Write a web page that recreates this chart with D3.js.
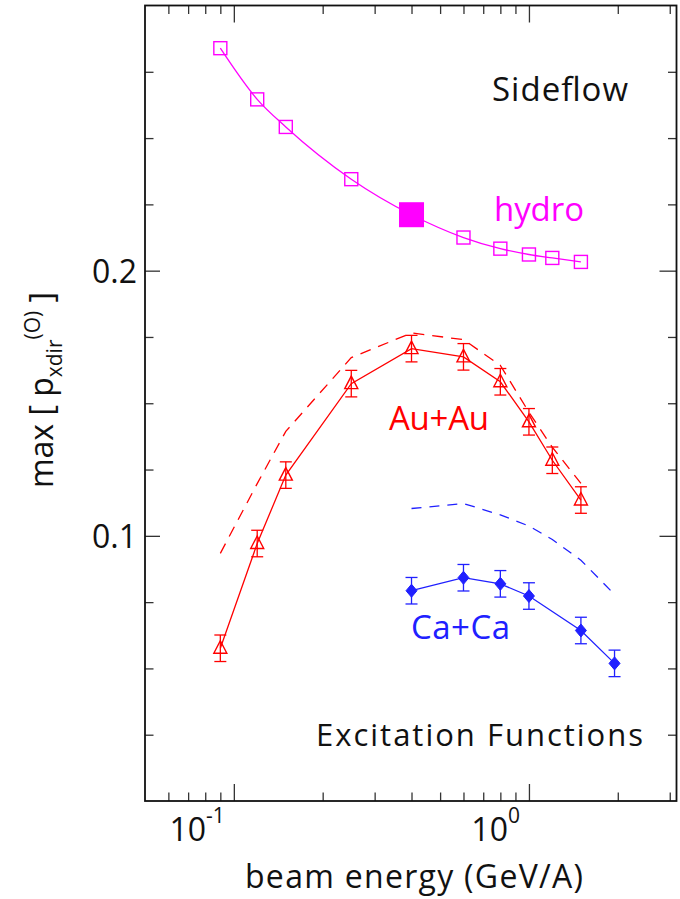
<!DOCTYPE html>
<html>
<head>
<meta charset="utf-8">
<script src="https://cdn.jsdelivr.net/npm/d3@7"></script>
<style>
  html, body { margin: 0; padding: 0; background: #fff; }
  svg { display: block; }
  text { font-family: "Open Sans", "DejaVu Sans", sans-serif; }
</style>
</head>
<body>
<script>
// ---------------- data ----------------
const energies = [0.09, 0.12, 0.15, 0.25, 0.4, 0.6, 0.8, 1.0, 1.2, 1.5];
const hydroValues = [0.2839, 0.2646, 0.2542, 0.2345, 0.2211, 0.2125, 0.2083, 0.2061, 0.2048, 0.2033];
const hydroHighlightEnergy = [0.4];
const hydroHighlightValue = [0.2211];

const auValues = [0.0576, 0.0971, 0.1229, 0.1574, 0.1706, 0.1675, 0.1581, 0.1430, 0.1285, 0.1135];
const auErrors = [0.005, 0.005, 0.005, 0.005, 0.005, 0.005, 0.005, 0.005, 0.005, 0.005];
const auModelValues = [0.0934, 0.1197, 0.1394, 0.1672, 0.1765, 0.1740, 0.1643, 0.1466, 0.1334, 0.1198];

const caEnergies = [0.4, 0.6, 0.8, 1.0, 1.5, 1.95];
const caValues = [0.0793, 0.0842, 0.0819, 0.0773, 0.0643, 0.0519];
const caErrors = [0.005, 0.005, 0.005, 0.005, 0.005, 0.005];
const caModelEnergies = [0.4, 0.6, 0.8, 1.0, 1.2, 1.5, 1.95];
const caModelValues = [0.1103, 0.1122, 0.1079, 0.1037, 0.0986, 0.0908, 0.0779];

const xMajorTicks = [0.1, 1];
const xMinorTicks = [0.06, 0.07, 0.08, 0.09, 0.2, 0.3, 0.4, 0.5, 0.6, 0.7, 0.8, 0.9, 2, 3];
const xTickBase = ["10", "10"];
const xTickExponents = ["-1", "0"];
const yMajorTicks = [0.1, 0.2];
const yMinorTicks = [0.025, 0.05, 0.075, 0.125, 0.15, 0.175, 0.225, 0.25, 0.275];
const yTickLabels = ["0.1", "0.2"];

const xTitle = "beam energy (GeV/A)";
const labels = {
  sideflow: "Sideflow",
  hydro: "hydro",
  au: "Au+Au",
  ca: "Ca+Ca",
  excitation: "Excitation Functions"
};

// ---------------- layout ----------------
const W = 680, H = 899;
const L = 145, R = 676.5, T = 5.5, B = 801;
const MAGENTA = "#ff00ff", RED = "#ff0000", BLUE = "#2020ff";

const svg = d3.select("body").append("svg").attr("width", W).attr("height", H);

const x = d3.scaleLog().domain([0.05, Math.sqrt(10)]).range([L, R]);
const y = d3.scaleLinear().domain([0, 0.3]).range([B, T]);

// ---------------- axes (ticks inward) ----------------
function styleAxis(g) {
  g.select(".domain").remove();
  g.selectAll(".tick line").attr("stroke", "#333").attr("stroke-width", 1.3);
  g.selectAll(".tick text").remove();
}
const MAJ = 17, MIN = 8.5;
svg.append("g").attr("transform", `translate(0,${B})`)
  .call(d3.axisTop(x).tickValues(xMajorTicks).tickSize(MAJ).tickFormat("")).call(styleAxis);
svg.append("g").attr("transform", `translate(0,${B})`)
  .call(d3.axisTop(x).tickValues(xMinorTicks).tickSize(MIN).tickFormat("")).call(styleAxis);
svg.append("g").attr("transform", `translate(0,${T})`)
  .call(d3.axisBottom(x).tickValues(xMajorTicks).tickSize(MAJ).tickFormat("")).call(styleAxis);
svg.append("g").attr("transform", `translate(0,${T})`)
  .call(d3.axisBottom(x).tickValues(xMinorTicks).tickSize(MIN).tickFormat("")).call(styleAxis);
svg.append("g").attr("transform", `translate(${L},0)`)
  .call(d3.axisRight(y).tickValues(yMajorTicks).tickSize(15).tickFormat("")).call(styleAxis);
svg.append("g").attr("transform", `translate(${L},0)`)
  .call(d3.axisRight(y).tickValues(yMinorTicks).tickSize(MIN).tickFormat("")).call(styleAxis);
svg.append("g").attr("transform", `translate(${R},0)`)
  .call(d3.axisLeft(y).tickValues(yMajorTicks).tickSize(MAJ).tickFormat("")).call(styleAxis);
svg.append("g").attr("transform", `translate(${R},0)`)
  .call(d3.axisLeft(y).tickValues(yMinorTicks).tickSize(MIN).tickFormat("")).call(styleAxis);

// frame
svg.append("rect").attr("x", L).attr("y", T).attr("width", R - L).attr("height", B - T)
  .attr("fill", "none").attr("stroke", "#111").attr("stroke-width", 1.8);

// tick labels
xMajorTicks.forEach((v, i) => {
  const t = svg.append("text").attr("x", x(v) - 9).attr("y", 841)
    .attr("text-anchor", "end").attr("font-size", 32).attr("fill", "#111");
  t.append("tspan").text(xTickBase[i]);
  t.append("tspan").attr("font-size", 21).attr("dy", -18).text(xTickExponents[i]);
});
yMajorTicks.forEach((v, i) => {
  svg.append("text").attr("x", 137).attr("y", y(v) + 12)
    .attr("text-anchor", "end").attr("font-size", 32).attr("fill", "#111").text(yTickLabels[i]);
});

// axis titles
svg.append("text").attr("x", 245).attr("y", 888)
  .attr("font-size", 32).attr("fill", "#111")
  .attr("textLength", 338).attr("lengthAdjust", "spacing").text(xTitle);

const yt = svg.append("text").attr("transform", "translate(53,390) rotate(-90)")
  .attr("text-anchor", "middle").attr("font-size", 32).attr("fill", "#111");
yt.append("tspan").text("max [ p");
yt.append("tspan").attr("font-size", 21).attr("dy", 9).text("xdir");
yt.append("tspan").attr("font-size", 21).attr("dy", -22).text("(O)");
yt.append("tspan").attr("font-size", 32).attr("dy", 13).text(" ]");

// ---------------- series ----------------
const plot = svg.append("g");

// hydro
const hydroPts = energies.map((e, i) => [e, hydroValues[i]]);
plot.append("path").datum(hydroPts)
  .attr("d", d3.line().x(d => x(d[0])).y(d => y(d[1])).curve(d3.curveMonotoneX))
  .attr("fill", "none").attr("stroke", MAGENTA).attr("stroke-width", 1.3);
const SQ = 13;
plot.selectAll(".hsq").data(hydroPts).enter().append("rect")
  .attr("x", d => x(d[0]) - SQ / 2).attr("y", d => y(d[1]) - SQ / 2)
  .attr("width", SQ).attr("height", SQ)
  .attr("fill", "none").attr("stroke", MAGENTA).attr("stroke-width", 1.4);
const BIG = 25;
plot.selectAll(".hbig").data(hydroHighlightEnergy.map((e, i) => [e, hydroHighlightValue[i]])).enter().append("rect")
  .attr("x", d => x(d[0]) - BIG / 2).attr("y", d => y(d[1]) - BIG / 2)
  .attr("width", BIG).attr("height", BIG).attr("fill", MAGENTA);

// Au+Au model (dashed)
plot.append("path").datum(energies.map((e, i) => [e, auModelValues[i]]))
  .attr("d", d3.line().x(d => x(d[0])).y(d => y(d[1])))
  .attr("fill", "none").attr("stroke", RED).attr("stroke-width", 1.3)
  .attr("stroke-dasharray", "11,8");

// Ca+Ca model (dashed)
plot.append("path").datum(caModelEnergies.map((e, i) => [e, caModelValues[i]]))
  .attr("d", d3.line().x(d => x(d[0])).y(d => y(d[1])))
  .attr("fill", "none").attr("stroke", BLUE).attr("stroke-width", 1.3)
  .attr("stroke-dasharray", "10,8");

function errorBars(pts, color) {
  const g = plot.append("g").attr("stroke", color).attr("stroke-width", 1.3).attr("fill", "none");
  const CAP = 6;
  pts.forEach(d => {
    const cx = x(d[0]), y0 = y(d[1] - d[2]), y1 = y(d[1] + d[2]);
    g.append("line").attr("x1", cx).attr("x2", cx).attr("y1", y0).attr("y2", y1);
    g.append("line").attr("x1", cx - CAP).attr("x2", cx + CAP).attr("y1", y0).attr("y2", y0);
    g.append("line").attr("x1", cx - CAP).attr("x2", cx + CAP).attr("y1", y1).attr("y2", y1);
  });
}

// Au+Au data
const auPts = energies.map((e, i) => [e, auValues[i], auErrors[i]]);
plot.append("path").datum(auPts)
  .attr("d", d3.line().x(d => x(d[0])).y(d => y(d[1])))
  .attr("fill", "none").attr("stroke", RED).attr("stroke-width", 1.3);
errorBars(auPts, RED);
plot.selectAll(".tri").data(auPts).enter().append("path")
  .attr("transform", d => `translate(${x(d[0])},${y(d[1])})`)
  .attr("d", "M0,-7.5 L6.5,5 L-6.5,5 Z")
  .attr("fill", "none").attr("stroke", RED).attr("stroke-width", 1.4);

// Ca+Ca data
const caPts = caEnergies.map((e, i) => [e, caValues[i], caErrors[i]]);
plot.append("path").datum(caPts)
  .attr("d", d3.line().x(d => x(d[0])).y(d => y(d[1])))
  .attr("fill", "none").attr("stroke", BLUE).attr("stroke-width", 1.3);
errorBars(caPts, BLUE);
plot.selectAll(".dia").data(caPts).enter().append("path")
  .attr("transform", d => `translate(${x(d[0])},${y(d[1])})`)
  .attr("d", "M0,-6.5 L5.5,0 L0,6.5 L-5.5,0 Z")
  .attr("fill", BLUE).attr("stroke", BLUE).attr("stroke-width", 1);

// ---------------- annotations ----------------
function label(txt, xx, yy, color, size, len) {
  svg.append("text").attr("x", xx).attr("y", yy).attr("font-size", size)
    .attr("fill", color).attr("textLength", len).attr("lengthAdjust", "spacing").text(txt);
}
label(labels.sideflow, 492, 101, "#111", 33, 136);
label(labels.hydro, 494, 221, MAGENTA, 33, 90);
label(labels.au, 389, 430, RED, 33, 100);
label(labels.ca, 411, 639, BLUE, 33, 99);
label(labels.excitation, 316, 746, "#111", 31, 327);
</script>
</body>
</html>
